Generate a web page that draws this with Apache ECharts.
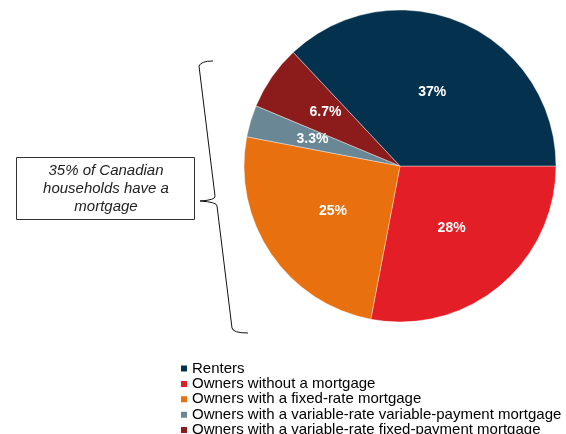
<!DOCTYPE html>
<html>
<head>
<meta charset="utf-8">
<script src="https://cdn.jsdelivr.net/npm/echarts@6/dist/echarts.min.js"></script>
<style>
  html, body { margin: 0; padding: 0; background: #fff; }
  #chart { width: 566px; height: 434px; }
</style>
</head>
<body>
<div id="chart"></div>
<script>
  // slice order follows the pie, clockwise from 3 o'clock
  const categories = [
    'Owners without a mortgage',
    'Owners with a fixed-rate mortgage',
    'Owners with a variable-rate variable-payment mortgage',
    'Owners with a variable-rate fixed-payment mortgage',
    'Renters'
  ]
  const values = [28, 25, 3.3, 6.7, 37]
  const labels = ['28%', '25%', '3.3%', '6.7%', '37%']
  const colors = ['#E31E26', '#E8700F', '#6A8796', '#8C1C1B', '#04324E']
  const legendOrder = [
    'Renters',
    'Owners without a mortgage',
    'Owners with a fixed-rate mortgage',
    'Owners with a variable-rate variable-payment mortgage',
    'Owners with a variable-rate fixed-payment mortgage'
  ]
  const noteText = '35% of Canadian\nhouseholds have a\nmortgage'

  // small nudges for the two thin slices
  const labelShift = [[0, 0], [0, 0], [-10, -4], [-8, -8], [0, 0]]

  const chart = echarts.init(document.getElementById('chart'))

  const braceStyle = { fill: 'none', stroke: '#111', lineWidth: 1 }

  chart.setOption({
    animation: false,
    legend: {
      data: legendOrder,
      orient: 'vertical',
      left: 179,
      top: 361,
      height: 200,
      padding: 0,
      itemWidth: 8,
      itemHeight: 8,
      itemGap: 0.4,
      icon: 'rect',
      textStyle: {
        fontFamily: 'Liberation Sans, Arial, sans-serif',
        fontSize: 15,
        lineHeight: 13,
        padding: [0, 0, 0, -1],
        color: '#000'
      }
    },
    series: [{
      type: 'pie',
      center: [400, 166],
      radius: 156,
      startAngle: 0,
      clockwise: true,
      avoidLabelOverlap: false,
      itemStyle: { borderColor: '#fff', borderWidth: 0.4 },
      label: {
        position: 'inside',
        color: '#fff',
        fontWeight: 'bold',
        fontSize: 14,
        fontFamily: 'Liberation Sans, Arial, sans-serif',
        formatter: (p) => labels[p.dataIndex]
      },
      labelLayout: (p) => ({ dx: labelShift[p.dataIndex][0], dy: labelShift[p.dataIndex][1] }),
      emphasis: { disabled: true },
      data: categories.map((name, i) => ({
        name: name,
        value: values[i],
        itemStyle: { color: colors[i] }
      }))
    }],
    graphic: [
      {
        type: 'rect',
        shape: { x: 16.5, y: 157.5, width: 178, height: 62 },
        style: { fill: '#fff', stroke: '#333', lineWidth: 1 }
      },
      {
        type: 'text',
        x: 106,
        y: 189,
        style: {
          text: noteText,
          fontFamily: 'Liberation Sans, Arial, sans-serif',
          fontStyle: 'italic',
          fontSize: 15,
          lineHeight: 18,
          fill: '#222',
          align: 'center',
          verticalAlign: 'middle'
        }
      },
      // curly brace
      { type: 'bezierCurve', shape: { x1: 213, y1: 61, x2: 199, y2: 66, cpx1: 201, cpy1: 61 }, style: braceStyle },
      { type: 'line', shape: { x1: 199, y1: 66, x2: 215, y2: 196 }, style: braceStyle },
      { type: 'bezierCurve', shape: { x1: 215, y1: 196, x2: 200, y2: 201, cpx1: 216, cpy1: 200 }, style: braceStyle },
      { type: 'bezierCurve', shape: { x1: 200, y1: 201, x2: 217, y2: 206, cpx1: 217, cpy1: 202 }, style: braceStyle },
      { type: 'line', shape: { x1: 217, y1: 206, x2: 232, y2: 328 }, style: braceStyle },
      { type: 'bezierCurve', shape: { x1: 232, y1: 328, x2: 248, y2: 333, cpx1: 233, cpy1: 333 }, style: braceStyle }
    ]
  })
</script>
</body>
</html>
